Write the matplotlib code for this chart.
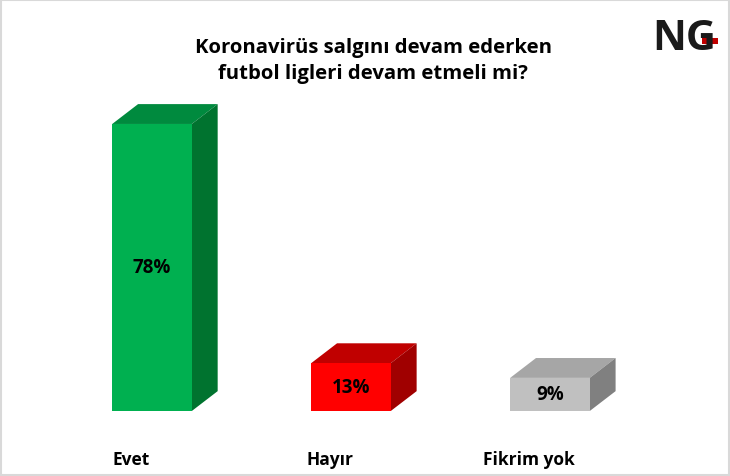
import matplotlib
matplotlib.use('Agg')
import matplotlib.pyplot as plt
from matplotlib.patches import Polygon, Rectangle

# Chart data
categories = ['Evet', 'Hayır', 'Fikrim yok']
values = [78, 13, 9]
front_colors = ['#00B050', '#FF0000', '#C0C0C0']
top_colors = ['#008A3E', '#C00000', '#A6A6A6']
side_colors = ['#00732F', '#A00000', '#808080']

title = 'Koronavirüs salgını devam ederken\nfutbol ligleri devam etmeli mi?'

plt.rcParams['font.family'] = ['Open Sans', 'DejaVu Sans']

fig = plt.figure(figsize=(7.3, 4.77), dpi=100)
ax = fig.add_axes([0, 0, 1, 1])
ax.set_xlim(-0.764, 2.905)
ax.set_ylim(-17.66, 111.96)
ax.axis('off')

width = 0.4
dx = 0.13   # depth in x (data units)
dy = 5.4    # depth in y (data units)

x = list(range(len(categories)))
ax.bar(x, values, width=width, color=front_colors, zorder=3)

for i, v in enumerate(values):
    l, r = i - width / 2, i + width / 2
    top = Polygon([(l, v), (r, v), (r + dx, v + dy), (l + dx, v + dy)],
                  closed=True, facecolor=top_colors[i], edgecolor='none', zorder=2)
    side = Polygon([(r, 0), (r + dx, dy), (r + dx, v + dy), (r, v)],
                   closed=True, facecolor=side_colors[i], edgecolor='none', zorder=2)
    ax.add_patch(top)
    ax.add_patch(side)
    ax.text(i, v / 2, f'{v}%', ha='center', va='center', fontsize=13.5,
            fontweight='bold', color='black', zorder=4)
    ax.text(i - 0.105, -13, categories[i], ha='center', va='center',
            fontsize=12.5, fontweight='bold', color='black')

fig.text(0.511, 0.872, title, ha='center', va='center', fontsize=14.6,
         fontweight='bold', linespacing=1.4)

# logo
fig.text(0.938, 0.918, 'NG', ha='center', va='center', fontsize=30,
         fontweight='bold', color='#1a1a1a')
fig.patches.append(Rectangle((0.962, 0.905), 0.022, 0.014, transform=fig.transFigure,
                             facecolor='#C00000', edgecolor='none'))

# thin frame around image
fig.patches.append(Rectangle((0.002, 0.003), 0.996, 0.994, transform=fig.transFigure,
                             facecolor='none', edgecolor='#d9d9d9', linewidth=1.5))

fig.savefig('out.png', dpi=100)
